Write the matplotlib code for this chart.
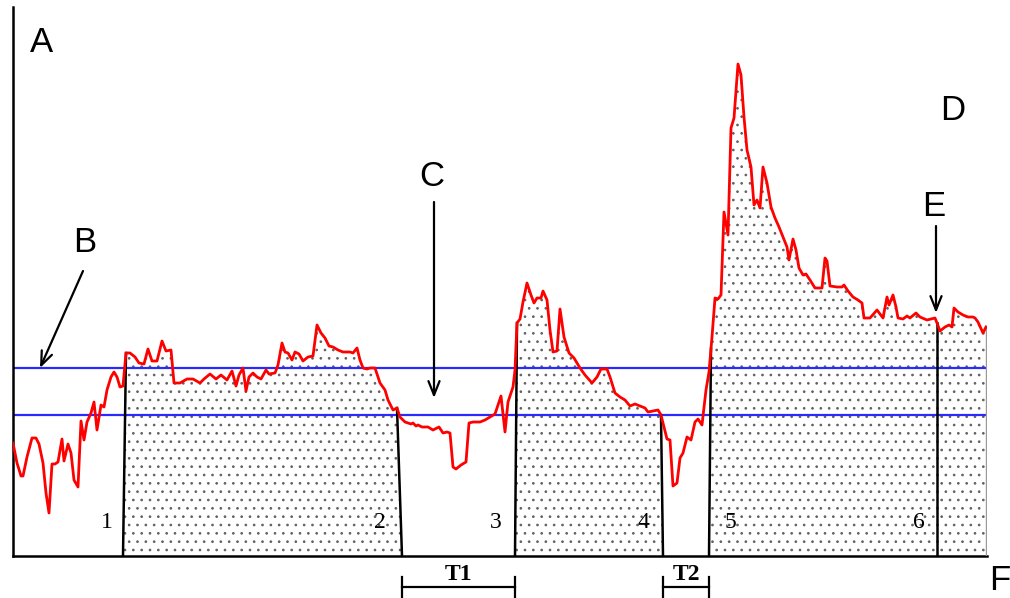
import numpy as np
import matplotlib
matplotlib.use("Agg")
import matplotlib.pyplot as plt

# red trace (time index, signal level)
t = [0, 4, 8, 10, 14, 19, 23, 26, 30, 33, 36, 39, 42, 45, 49, 51, 55, 58, 61, 65,
     68, 71, 74, 78, 81, 84, 88, 91, 94, 98, 101, 104, 107, 110, 113, 117, 122, 126, 131, 135,
     139, 144, 149, 153, 158, 161, 167, 174, 180, 187, 191, 197, 203, 208, 214, 219, 223, 226, 230, 233,
     236, 240, 244, 248, 253, 256, 262, 265, 269, 272, 275, 279, 282, 286, 290, 295, 300, 304, 308, 312,
     316, 320, 325, 330, 337, 340, 344, 347, 350, 354, 357, 362, 367, 372, 375, 380, 384, 387, 392, 398,
     400, 403, 405, 409, 415, 420, 426, 430, 434, 437, 440, 443, 448, 453, 456, 460, 467, 472, 477, 482,
     488, 492, 495, 500, 502, 504, 507, 510, 514, 518, 521, 524, 528, 530, 534, 537, 540, 544, 547, 551,
     556, 561, 567, 572, 579, 584, 588, 594, 597, 602, 607, 612, 617, 622, 627, 632, 635, 645, 648, 651,
     654, 657, 660, 664, 667, 670, 674, 678, 682, 685, 689, 693, 696, 699, 702, 705, 708, 711, 715, 718,
     721, 725, 728, 731, 734, 738, 741, 744, 747, 750, 754, 758, 762, 766, 770, 774, 776, 780, 783, 786,
     790, 793, 797, 802, 809, 812, 814, 817, 824, 829, 831, 835, 840, 845, 849, 851, 857, 864, 870, 874,
     876, 880, 883, 885, 890, 894, 897, 903, 907, 914, 922, 924, 927, 932, 936, 939, 941, 945, 950, 955,
     960, 962, 965, 970, 973]
level = [113, 93, 80, 80, 99, 118, 118, 112, 93, 63, 43, 92, 92, 94, 117, 95, 112, 103, 76, 69,
         135, 116, 134, 143, 154, 126, 151, 149, 166, 179, 184, 179, 169, 170, 203, 203, 199, 193, 192, 207,
         195, 195, 215, 205, 206, 173, 173, 177, 177, 173, 177, 182, 177, 181, 176, 185, 170, 181, 188, 165,
         179, 183, 179, 177, 186, 182, 183, 191, 213, 204, 203, 196, 204, 202, 195, 199, 200, 231, 223, 218,
         210, 209, 206, 204, 204, 203, 208, 196, 188, 187, 188, 188, 173, 166, 156, 146, 148, 139, 134, 132,
         133, 130, 131, 129, 129, 126, 129, 123, 124, 123, 89, 87, 91, 94, 133, 134, 134, 136, 139, 142,
         160, 124, 154, 169, 186, 233, 237, 254, 273, 261, 253, 258, 258, 265, 256, 226, 204, 205, 247, 219,
         203, 198, 188, 181, 173, 179, 187, 187, 179, 163, 159, 156, 150, 152, 150, 148, 144, 146, 141, 129,
         117, 116, 70, 73, 98, 103, 119, 116, 134, 137, 131, 166, 184, 219, 258, 257, 261, 344, 321, 428,
         438, 492, 481, 439, 406, 389, 351, 356, 348, 389, 373, 349, 338, 329, 319, 309, 296, 317, 306, 288,
         281, 282, 276, 268, 268, 298, 295, 270, 269, 269, 271, 265, 259, 256, 253, 238, 238, 246, 238, 259,
         251, 261, 249, 238, 237, 240, 238, 243, 239, 236, 238, 233, 225, 229, 231, 229, 248, 244, 241, 239,
         239, 238, 234, 223, 229]

# thresholds (blue lines)
upper_level = 188
lower_level = 141

# segment boundaries: foot on the baseline, top where it meets the trace
bound_bottom = [110, 389, 502, 650, 696, 924]
bound_top = [113, 384, 504, 648, 698, 924]
end_t = 973
bound_labels = ["1", "2", "3", "4", "5", "6"]
label_t = [94, 367, 483, 630, 717, 906]

# shaded segments as (start boundary, end boundary) index pairs, None = end of trace
shaded = [(0, 1), (2, 3), (4, None)]

t = np.array(t, dtype=float)
level = np.array(level, dtype=float)

plt.rcParams["hatch.linewidth"] = 0.7

fig = plt.figure(figsize=(10.1, 5.98), dpi=100)
ax = fig.add_axes([13 / 1010, 42 / 598, 974 / 1010, 549 / 598])
ax.set_xlim(0, 974)
ax.set_ylim(0, 549)
for s in ["top", "right"]:
    ax.spines[s].set_visible(False)
for s in ["left", "bottom"]:
    ax.spines[s].set_linewidth(1.8)
ax.set_xticks([])
ax.set_yticks([])

for a, b in shaded:
    t0, b0 = bound_top[a], bound_bottom[a]
    if b is None:
        t1, b1 = end_t, end_t
    else:
        t1, b1 = bound_top[b], bound_bottom[b]
    mask = (t >= t0) & (t <= t1)
    xs = np.concatenate([[t0], t[mask], [t1, b1, b0]])
    ys = np.concatenate([[np.interp(t0, t, level)], level[mask],
                         [np.interp(t1, t, level), 0, 0]])
    ax.fill(xs, ys, facecolor="white", edgecolor="#606060", hatch="..",
            linewidth=0, zorder=1)

ax.axhline(upper_level, color="#2a2aff", lw=1.6, zorder=2)
ax.axhline(lower_level, color="#2a2aff", lw=1.6, zorder=2)

for xb, xt in zip(bound_bottom, bound_top):
    ax.plot([xb, xt], [0, np.interp(xt, t, level)], color="black", lw=1.8, zorder=3)
ax.plot([end_t, end_t], [0, level[-1]], color="#999999", lw=1.0, zorder=3)

ax.plot(t, level, color="#ff0000", lw=2.0, zorder=4)

for lab, xl in zip(bound_labels, label_t):
    ax.text(xl, 34, lab, fontsize=17, family="Liberation Serif",
            ha="center", va="center", zorder=5)

# letters
letter_kw = dict(fontsize=25, family="Liberation Sans", ha="center", va="center",
                 clip_on=False)
ax.text(28, 514, "A", **letter_kw)
ax.text(72, 314, "B", **letter_kw)
ax.text(419, 379, "C", **letter_kw)
ax.text(940, 445, "D", **letter_kw)
ax.text(921, 350, "E", **letter_kw)
ax.text(987, -24, "F", **letter_kw)

arrow_kw = dict(arrowstyle="->,head_length=1.0,head_width=0.4", color="black", lw=1.6,
                shrinkA=0, shrinkB=0)
ax.annotate("", xy=(27, upper_level), xytext=(70, 285), arrowprops=arrow_kw)
ax.annotate("", xy=(421, 158), xytext=(421, 354), arrowprops=arrow_kw)
ax.annotate("", xy=(923, 243), xytext=(923, 330), arrowprops=arrow_kw)

# T1 / T2 interval brackets under the axis
for name, a, b in [("T1", 1, 2), ("T2", 3, 4)]:
    x0, x1 = bound_bottom[a], bound_bottom[b]
    ax.plot([x0, x1], [-31, -31], color="black", lw=1.6, clip_on=False)
    ax.plot([x0, x0], [-21, -41], color="black", lw=1.6, clip_on=False)
    ax.plot([x1, x1], [-21, -41], color="black", lw=1.6, clip_on=False)
    ax.text((x0 + x1) / 2, -18, name, fontsize=17, family="Liberation Serif",
            fontweight="bold", ha="center", va="center", clip_on=False)

fig.savefig("out.png", dpi=100)
